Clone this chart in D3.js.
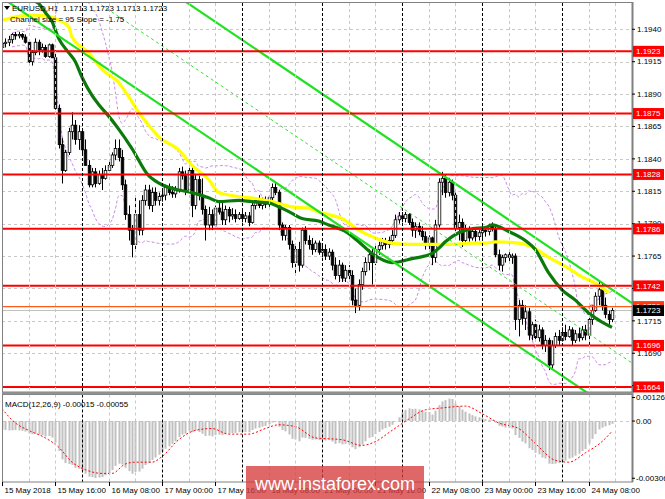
<!DOCTYPE html>
<html><head><meta charset="utf-8">
<script src="https://cdn.jsdelivr.net/npm/d3@7"></script>
<style>body{margin:0;background:#fff;}svg{display:block;}text{font-family:"Liberation Sans",Arial,sans-serif;}</style>
</head><body>
<svg id="c" width="665" height="499"></svg>
<script>
// ---------- DATA (EURUSD H1) ----------
const opens=[1.1926,1.1929,1.1930,1.1932,1.1936,1.1935,1.1936,1.1934,1.1930,1.1915,1.1922,1.1930,1.1924,1.1926,1.1919,1.1928,1.1918,1.1879,1.1851,1.1831,1.1845,1.1861,1.1866,1.1855,1.1861,1.1847,1.1835,1.1820,1.1830,1.1821,1.1828,1.1825,1.1831,1.1835,1.1843,1.1848,1.1841,1.1820,1.1797,1.1785,1.1774,1.1797,1.1785,1.1808,1.1816,1.1804,1.1814,1.1808,1.1811,1.1812,1.1818,1.1814,1.1813,1.1816,1.1830,1.1827,1.1816,1.1831,1.1804,1.1824,1.1812,1.1801,1.1789,1.1797,1.1789,1.1802,1.1799,1.1793,1.1801,1.1796,1.1797,1.1794,1.1797,1.1794,1.1796,1.1791,1.1804,1.1808,1.1804,1.1807,1.1805,1.1810,1.1818,1.1814,1.1789,1.1781,1.1787,1.1774,1.1760,1.1770,1.1758,1.1785,1.1777,1.1774,1.1770,1.1775,1.1768,1.1770,1.1765,1.1768,1.1758,1.1750,1.1758,1.1748,1.1754,1.1750,1.1731,1.1727,1.1743,1.1753,1.1760,1.1766,1.1760,1.1770,1.1773,1.1776,1.1774,1.1777,1.1781,1.1793,1.1796,1.1794,1.1797,1.1791,1.1785,1.1788,1.1784,1.1780,1.1773,1.1779,1.1764,1.1789,1.1822,1.1825,1.1814,1.1822,1.1812,1.1787,1.1791,1.1777,1.1785,1.1779,1.1784,1.1780,1.1783,1.1785,1.1784,1.1788,1.1786,1.1766,1.1758,1.1764,1.1766,1.1764,1.1765,1.1716,1.1727,1.1717,1.1722,1.1704,1.1712,1.1702,1.1708,1.1696,1.1700,1.1681,1.1696,1.1703,1.1700,1.1706,1.1703,1.1708,1.1700,1.1705,1.1702,1.1708,1.1704,1.1716,1.1723,1.1734,1.1739,1.1727,1.1720,1.1716];
const highs=[1.1932,1.1933,1.1935,1.1937,1.1938,1.1938,1.1937,1.1936,1.1932,1.1924,1.1933,1.1932,1.1929,1.1928,1.1929,1.1929,1.1924,1.1882,1.1856,1.1847,1.1864,1.1876,1.1870,1.1866,1.1862,1.1855,1.1839,1.1833,1.1833,1.1831,1.1833,1.1835,1.1839,1.1845,1.1855,1.1855,1.1847,1.1824,1.1804,1.1789,1.1812,1.1808,1.1812,1.1820,1.1820,1.1818,1.1818,1.1814,1.1816,1.1820,1.1821,1.1819,1.1819,1.1833,1.1834,1.1831,1.1835,1.1835,1.1828,1.1827,1.1825,1.1804,1.1803,1.1801,1.1804,1.1807,1.1808,1.1804,1.1803,1.1802,1.1801,1.1799,1.1801,1.1799,1.1799,1.1808,1.1810,1.1812,1.1810,1.1811,1.1812,1.1821,1.1822,1.1816,1.1791,1.1789,1.1789,1.1777,1.1774,1.1776,1.1787,1.1788,1.1781,1.1779,1.1777,1.1777,1.1774,1.1774,1.1771,1.1770,1.1764,1.1762,1.1760,1.1758,1.1758,1.1754,1.1740,1.1747,1.1756,1.1764,1.1770,1.1771,1.1774,1.1776,1.1779,1.1779,1.1780,1.1785,1.1797,1.1799,1.1799,1.1799,1.1798,1.1794,1.1791,1.1791,1.1788,1.1784,1.1781,1.1780,1.1793,1.1825,1.1830,1.1828,1.1825,1.1824,1.1814,1.1797,1.1794,1.1789,1.1788,1.1787,1.1787,1.1785,1.1789,1.1788,1.1790,1.1791,1.1788,1.1770,1.1766,1.1767,1.1768,1.1767,1.1767,1.1731,1.1731,1.1727,1.1725,1.1714,1.1716,1.1712,1.1710,1.1704,1.1702,1.1700,1.1706,1.1708,1.1710,1.1712,1.1711,1.1710,1.1708,1.1710,1.1711,1.1712,1.1720,1.1727,1.1737,1.1745,1.1745,1.1733,1.1723,1.1725];
const lows=[1.1924,1.1926,1.1927,1.1929,1.1932,1.1933,1.1932,1.1929,1.1914,1.1912,1.1920,1.1920,1.1922,1.1918,1.1918,1.1918,1.1878,1.1848,1.1821,1.1830,1.1843,1.1855,1.1851,1.1847,1.1843,1.1835,1.1818,1.1818,1.1818,1.1820,1.1816,1.1824,1.1828,1.1833,1.1839,1.1838,1.1816,1.1793,1.1777,1.1764,1.1770,1.1781,1.1781,1.1804,1.1801,1.1799,1.1804,1.1804,1.1807,1.1808,1.1812,1.1810,1.1810,1.1814,1.1824,1.1812,1.1814,1.1795,1.1801,1.1808,1.1797,1.1777,1.1785,1.1785,1.1787,1.1797,1.1789,1.1789,1.1791,1.1793,1.1791,1.1793,1.1791,1.1791,1.1788,1.1790,1.1801,1.1802,1.1801,1.1802,1.1803,1.1808,1.1812,1.1785,1.1777,1.1777,1.1770,1.1756,1.1750,1.1753,1.1756,1.1774,1.1770,1.1766,1.1768,1.1766,1.1764,1.1762,1.1762,1.1754,1.1747,1.1745,1.1745,1.1745,1.1747,1.1727,1.1721,1.1723,1.1739,1.1750,1.1754,1.1743,1.1758,1.1766,1.1770,1.1770,1.1771,1.1774,1.1779,1.1790,1.1791,1.1791,1.1789,1.1780,1.1779,1.1781,1.1777,1.1770,1.1770,1.1758,1.1760,1.1787,1.1812,1.1810,1.1811,1.1808,1.1781,1.1777,1.1772,1.1774,1.1776,1.1777,1.1776,1.1777,1.1779,1.1780,1.1781,1.1784,1.1764,1.1754,1.1753,1.1760,1.1760,1.1759,1.1708,1.1703,1.1712,1.1708,1.1700,1.1700,1.1699,1.1699,1.1693,1.1691,1.1677,1.1677,1.1694,1.1696,1.1699,1.1700,1.1702,1.1696,1.1698,1.1699,1.1700,1.1700,1.1694,1.1712,1.1722,1.1727,1.1723,1.1717,1.1712,1.1714];
const closes=[1.1929,1.1930,1.1932,1.1936,1.1935,1.1936,1.1934,1.1930,1.1915,1.1922,1.1930,1.1924,1.1926,1.1919,1.1928,1.1918,1.1879,1.1851,1.1831,1.1845,1.1861,1.1866,1.1855,1.1861,1.1847,1.1835,1.1820,1.1830,1.1821,1.1828,1.1825,1.1831,1.1835,1.1843,1.1848,1.1841,1.1820,1.1797,1.1785,1.1774,1.1797,1.1785,1.1808,1.1816,1.1804,1.1814,1.1808,1.1811,1.1812,1.1818,1.1814,1.1813,1.1816,1.1830,1.1827,1.1816,1.1831,1.1804,1.1824,1.1812,1.1801,1.1789,1.1797,1.1789,1.1802,1.1799,1.1793,1.1801,1.1796,1.1797,1.1794,1.1797,1.1794,1.1796,1.1791,1.1804,1.1808,1.1804,1.1807,1.1805,1.1810,1.1818,1.1814,1.1789,1.1781,1.1787,1.1774,1.1760,1.1770,1.1758,1.1785,1.1777,1.1774,1.1770,1.1775,1.1768,1.1770,1.1765,1.1768,1.1758,1.1750,1.1758,1.1748,1.1754,1.1750,1.1731,1.1727,1.1743,1.1753,1.1760,1.1766,1.1760,1.1770,1.1773,1.1776,1.1774,1.1777,1.1781,1.1793,1.1796,1.1794,1.1797,1.1791,1.1785,1.1788,1.1784,1.1780,1.1773,1.1779,1.1764,1.1789,1.1822,1.1825,1.1814,1.1822,1.1812,1.1787,1.1791,1.1777,1.1785,1.1779,1.1784,1.1780,1.1783,1.1785,1.1784,1.1788,1.1786,1.1766,1.1758,1.1764,1.1766,1.1764,1.1765,1.1716,1.1727,1.1717,1.1722,1.1704,1.1712,1.1702,1.1708,1.1696,1.1700,1.1681,1.1696,1.1703,1.1700,1.1706,1.1703,1.1708,1.1700,1.1705,1.1702,1.1708,1.1704,1.1716,1.1723,1.1734,1.1739,1.1727,1.1720,1.1716,1.1723];

// moving averages: [bar index, price]
const maGreen=[[6,1.1975],[9,1.1963],[11,1.1960],[13,1.1953],[15,1.1946],[17,1.1933],[20,1.1922],[22,1.1915],[24,1.1903],[27,1.1889],[29,1.1882],[32,1.1873],[35,1.1863],[39,1.1848],[44,1.1827],[46,1.1823],[48,1.1820],[53,1.1816],[57,1.1814],[62,1.1810],[65,1.1807],[71,1.1808],[75,1.1807],[80,1.1806],[83,1.1803],[87,1.1798],[90,1.1794],[95,1.1792],[98,1.1789],[103,1.1784],[107,1.1776],[111,1.1767],[117,1.1760],[123,1.1763],[129,1.1767],[131,1.1771],[133,1.1776],[137,1.1783],[141,1.1786],[145,1.1787],[147,1.1789],[152,1.1784],[157,1.1777],[160,1.1770],[164,1.1752],[168,1.1739],[172,1.1731],[176,1.1721],[180,1.1714],[183,1.1710]];
const maYellow=[[0,1.1947],[5,1.1950],[9,1.1951],[14,1.1950],[17,1.1947],[20,1.1942],[21,1.1934],[26,1.1922],[30,1.1909],[35,1.1899],[38,1.1888],[41,1.1876],[44,1.1866],[47,1.1857],[53,1.1847],[57,1.1835],[62,1.1824],[65,1.1814],[71,1.1811],[77,1.1809],[81,1.1807],[87,1.1803],[92,1.1802],[95,1.1799],[98,1.1797],[102,1.1794],[107,1.1785],[112,1.1779],[117,1.1775],[123,1.1774],[130,1.1774],[135,1.1774],[140,1.1775],[145,1.1775],[148,1.1776],[155,1.1775],[159,1.1772],[164,1.1764],[169,1.1757],[174,1.1749],[178,1.1744],[182,1.1737]];

// regression channel (Channel size = 95, Slope = -1.75)
const channelUpper=[[0,1.20569],[189,1.17288]];
const channelMiddle=[[0,1.20106],[189,1.16825]];
const channelLower=[[0,1.19643],[189,1.16362]];

const levels=[1.1923,1.1875,1.1828,1.1786,1.1742,1.1696,1.1664];
const orangeLevel=1.1726;
const lastPrice=1.1723;
const alertMark=[177,1.1725];
const priceTicks=[1.1940,1.1915,1.1890,1.1865,1.1840,1.1815,1.1790,1.1765,1.1740,1.1715,1.1690,1.1665];
const timeLabels=["15 May 2018","15 May 16:00","16 May 08:00","17 May 00:00","17 May 16:00","18 May 08:00","21 May 00:00","21 May 16:00","22 May 08:00","23 May 00:00","23 May 16:00","24 May 08:00"];
const timeLabelBars=[0,16,32,48,64,80,96,112,128,144,160,176];
const daySeparatorBars=[24,48,72,96,120,144,168];

const macdHist=[-0.00045,-0.00048,-0.00050,-0.00050,-0.00048,-0.00050,-0.00052,-0.00056,-0.00066,-0.00070,-0.00068,-0.00072,-0.00075,-0.00082,-0.00080,-0.00088,-0.00115,-0.00160,-0.00205,-0.00225,-0.00230,-0.00235,-0.00250,-0.00255,-0.00268,-0.00282,-0.00298,-0.00300,-0.00305,-0.00302,-0.00300,-0.00290,-0.00280,-0.00262,-0.00240,-0.00228,-0.00232,-0.00250,-0.00268,-0.00282,-0.00272,-0.00270,-0.00255,-0.00235,-0.00225,-0.00208,-0.00195,-0.00180,-0.00165,-0.00148,-0.00135,-0.00122,-0.00108,-0.00085,-0.00072,-0.00068,-0.00052,-0.00060,-0.00052,-0.00058,-0.00068,-0.00080,-0.00078,-0.00082,-0.00075,-0.00072,-0.00075,-0.00068,-0.00066,-0.00064,-0.00063,-0.00060,-0.00060,-0.00058,-0.00060,-0.00048,-0.00040,-0.00036,-0.00030,-0.00026,-0.00018,-0.00008,-0.00006,-0.00030,-0.00048,-0.00055,-0.00072,-0.00095,-0.00098,-0.00108,-0.00088,-0.00090,-0.00095,-0.00100,-0.00098,-0.00102,-0.00100,-0.00104,-0.00102,-0.00110,-0.00122,-0.00118,-0.00125,-0.00122,-0.00125,-0.00140,-0.00150,-0.00140,-0.00125,-0.00108,-0.00090,-0.00085,-0.00070,-0.00058,-0.00045,-0.00038,-0.00030,-0.00020,-0.00002,0.00020,0.00045,0.00060,0.00068,0.00065,0.00066,0.00062,0.00055,0.00050,0.00048,0.00035,0.00055,0.00085,0.00105,0.00112,0.00120,0.00118,0.00095,0.00080,0.00062,0.00050,0.00040,0.00032,0.00025,0.00020,0.00015,0.00010,0.00008,0.00005,-0.00008,-0.00025,-0.00030,-0.00035,-0.00038,-0.00040,-0.00075,-0.00090,-0.00110,-0.00120,-0.00145,-0.00155,-0.00170,-0.00178,-0.00195,-0.00200,-0.00228,-0.00230,-0.00228,-0.00225,-0.00218,-0.00212,-0.00200,-0.00195,-0.00185,-0.00175,-0.00160,-0.00150,-0.00120,-0.00095,-0.00070,-0.00045,-0.00035,-0.00028,-0.00022,-0.00015];
const macdSignal=[[0,0.00066],[4,-0.0001],[8,-0.0005],[13,-0.0009],[17,-0.0014],[21,-0.0022],[25,-0.0026],[30,-0.0028],[33,-0.0028],[37,-0.0023],[40,-0.0022],[45,-0.0022],[48,-0.0019],[53,-0.0010],[58,-0.0005],[63,-0.0004],[68,-0.0007],[74,-0.0007],[79,-0.0004],[83,-0.0002],[88,-0.0003],[94,-0.0009],[102,-0.0010],[108,-0.0013],[112,-0.0011],[117,-0.0005],[122,0.0001],[127,0.0006],[132,0.0007],[139,0.0008],[144,0.0004],[149,-0.0001],[155,-0.0004],[160,-0.0012],[166,-0.0021],[170,-0.0022],[175,-0.0017],[180,-0.0011],[183,-0.00055]];
const macdTicks=[0.00126,0.00,-0.00306];
const macdTickLabels=["0.00126","0.00","-0.00306"];

// ---------- LAYOUT ----------
const X0=2,X1=632,MT=3,MB=392,ST=394.5,SB=482;
const svg=d3.select('#c');
const x=d3.scaleLinear().domain([0,189]).range([X0,X1]);
const y=d3.scaleLinear().domain([1.16601,1.19603]).range([MB,MT]);
const ym=d3.scaleLinear().domain([-0.00326,0.00142]).range([SB,ST]);
const n=Math.min(opens.length,highs.length,lows.length,closes.length);

svg.append('rect').attr('width',665).attr('height',499).attr('fill','#fff');
const defs=svg.append('defs');
defs.append('clipPath').attr('id','cm').append('rect').attr('x',X0).attr('y',MT-1).attr('width',X1-X0).attr('height',MB-MT+1);
defs.append('clipPath').attr('id','cs').append('rect').attr('x',X0).attr('y',ST).attr('width',X1-X0).attr('height',SB-ST);

const main=svg.append('g').attr('clip-path','url(#cm)');
const sub=svg.append('g').attr('clip-path','url(#cs)');

// grids
priceTicks.forEach(p=>{
  main.append('line').attr('x1',X0).attr('x2',X1).attr('y1',Math.round(y(p))+0.5).attr('y2',Math.round(y(p))+0.5)
    .attr('stroke','#c8c8c8').attr('stroke-dasharray','3,3');
});
sub.append('line').attr('x1',X0).attr('x2',X1).attr('y1',Math.round(ym(0))+0.5).attr('y2',Math.round(ym(0))+0.5)
  .attr('stroke','#c8c8c8').attr('stroke-dasharray','3,3');
for(let b=8;b<190;b+=8){
  if(b%24===0) continue;
  const xx=Math.round(x(b))+0.5;
  [[MT,MB],[ST,SB]].forEach(([a,c])=>svg.append('line').attr('x1',xx).attr('x2',xx).attr('y1',a).attr('y2',c)
    .attr('stroke','#c8c8c8').attr('stroke-dasharray','3,3'));
}
daySeparatorBars.forEach(b=>{
  const xx=Math.round(x(b))+0.5;
  [[MT,MB],[ST,SB]].forEach(([a,c])=>svg.append('line').attr('x1',xx).attr('x2',xx).attr('y1',a).attr('y2',c)
    .attr('stroke','#000').attr('stroke-dasharray','3,2'));
});

// Bollinger bands (20,2) from closes
const bbU=[],bbL=[];
for(let i=3;i<n;i++){
  const w=closes.slice(Math.max(0,i-19),i+1);
  const m=d3.mean(w), sd=Math.sqrt(d3.mean(w.map(v=>(v-m)*(v-m))));
  bbU.push([i,m+2*sd]); bbL.push([i,m-2*sd]);
}
const lineP=d3.line().x(d=>x(d[0])).y(d=>y(d[1])).curve(d3.curveMonotoneX);
[bbU,bbL].forEach(s=>main.append('path').attr('d',lineP(s)).attr('fill','none')
  .attr('stroke','#c98be6').attr('stroke-width',1).attr('stroke-dasharray','3,2'));

// current price gray line
main.append('line').attr('x1',X0).attr('x2',X1).attr('y1',y(lastPrice)).attr('y2',y(lastPrice)).attr('stroke','#c0c0c0');

// candles
const cg=main.append('g');
for(let i=0;i<n;i++){
  const cx=Math.round(x(i))+0.5;
  cg.append('line').attr('x1',cx).attr('x2',cx).attr('y1',y(highs[i])).attr('y2',y(lows[i])).attr('stroke','#000').attr('stroke-width',1);
  const top=y(Math.max(opens[i],closes[i])), bot=y(Math.min(opens[i],closes[i]));
  const bull=closes[i]>=opens[i];
  cg.append('rect').attr('x',cx-1.3).attr('width',2.6).attr('y',top).attr('height',Math.max(1,bot-top))
    .attr('fill',bull?'#fff':'#000').attr('stroke','#000').attr('stroke-width',0.8);
}

// moving averages
main.append('path').attr('d',lineP(maYellow)).attr('fill','none').attr('stroke','#ffff00').attr('stroke-width',3.2);
main.append('path').attr('d',lineP(maGreen)).attr('fill','none').attr('stroke','#0b7a0b').attr('stroke-width',3.2);

// channel
const lineS=d3.line().x(d=>x(d[0])).y(d=>y(d[1]));
main.append('path').attr('d',lineS(channelUpper)).attr('stroke','#22e022').attr('stroke-width',2.2).attr('fill','none');
main.append('path').attr('d',lineS(channelLower)).attr('stroke','#22e022').attr('stroke-width',2.2).attr('fill','none');
main.append('path').attr('d',lineS(channelMiddle)).attr('stroke','#33e033').attr('stroke-width',1).attr('stroke-dasharray','3,3').attr('fill','none');

// horizontal levels
levels.forEach(p=>main.append('line').attr('x1',X0).attr('x2',X1).attr('y1',y(p)).attr('y2',y(p)).attr('stroke','#ff0000').attr('stroke-width',2));
main.append('line').attr('x1',X0).attr('x2',X1).attr('y1',y(orangeLevel)).attr('y2',y(orangeLevel)).attr('stroke','#ff5a1e').attr('stroke-width',1.3);
main.append('circle').attr('cx',x(alertMark[0])).attr('cy',y(alertMark[1])).attr('r',3).attr('fill','none').attr('stroke','#ff3030').attr('stroke-width',1);

// MACD
for(let i=0;i<macdHist.length;i++){
  const cx=Math.round(x(i));
  const a=ym(0), b=ym(macdHist[i]);
  sub.append('rect').attr('x',cx-0.5).attr('width',2).attr('y',Math.min(a,b)).attr('height',Math.max(0.5,Math.abs(b-a))).attr('fill','#c0c0c0');
}
sub.append('path').attr('d',d3.line().x(d=>x(d[0])).y(d=>ym(d[1])).curve(d3.curveMonotoneX)(macdSignal))
  .attr('fill','none').attr('stroke','#ff0000').attr('stroke-width',1).attr('stroke-dasharray','2,2');

// frames
svg.append('rect').attr('x',X0+0.5).attr('y',MT-0.5).attr('width',X1-X0).attr('height',MB-MT+0.5).attr('fill','none').attr('stroke','#808080');
svg.append('rect').attr('x',X0+0.5).attr('y',ST).attr('width',X1-X0).attr('height',SB-ST).attr('fill','none').attr('stroke','#808080');
svg.append('line').attr('x1',X1+0.5).attr('x2',X1+0.5).attr('y1',MT-1).attr('y2',SB).attr('stroke','#808080').attr('stroke-width',2);
svg.append('rect').attr('x',X0).attr('y',MB).attr('width',X1-X0+1).attr('height',ST-MB).attr('fill','#909090');

// price axis
const ax=svg.append('g').attr('font-size','8px');
priceTicks.forEach(p=>{
  ax.append('line').attr('x1',X1).attr('x2',X1+3).attr('y1',y(p)).attr('y2',y(p)).attr('stroke','#000');
  ax.append('text').attr('x',637).attr('y',y(p)).attr('dy','0.35em').text(d3.format('.4f')(p));
});
function tag(p,bg,fg,txt){
  const yy=y(p);
  ax.append('rect').attr('x',X1+1).attr('y',yy-5.5).attr('width',31).attr('height',11).attr('fill',bg);
  ax.append('text').attr('x',636).attr('y',yy).attr('dy','0.35em').attr('fill',fg).text(txt);
}
levels.forEach(p=>tag(p,'#ff0000','#fff',d3.format('.4f')(p)));
tag(orangeLevel,'#ff3a10','#fff',d3.format('.4f')(orangeLevel));
tag(lastPrice,'#000','#fff',d3.format('.4f')(lastPrice));

// macd axis
macdTicks.forEach((v,k)=>{
  ax.append('line').attr('x1',X1).attr('x2',X1+3).attr('y1',ym(v)).attr('y2',ym(v)).attr('stroke','#000');
  ax.append('text').attr('x',636).attr('y',Math.min(ym(v),478)).attr('dy','0.35em').text(macdTickLabels[k]);
});

// time axis
timeLabels.forEach((t,k)=>{
  const xx=Math.round(x(timeLabelBars[k]))+0.5;
  ax.append('line').attr('x1',xx).attr('x2',xx).attr('y1',SB).attr('y2',SB+4).attr('stroke','#000');
  ax.append('text').attr('x',xx+2).attr('y',493).text(t);
});

// titles
const tt=svg.append('g').attr('font-size','8px').attr('fill','#000');
tt.append('path').attr('d','M4,6 L10,6 L7,10 Z').attr('fill','#000');
tt.append('text').attr('x',12).attr('y',11).style('white-space','pre').text('EURUSD,H1  1.1713 1.1723 1.1713 1.1723');
tt.append('text').attr('x',10).attr('y',22).style('white-space','pre').text('Channel size = 95 Slope = -1.75');
tt.append('text').attr('x',5).attr('y',407).style('white-space','pre').text('MACD(12,26,9) -0.00015 -0.00055');

// watermark
svg.append('rect').attr('x',246).attr('y',466).attr('width',178).attr('height',33).attr('fill','rgba(214,60,60,0.78)');
svg.append('text').attr('x',335).attr('y',490).attr('text-anchor','middle').attr('font-size','18px').attr('fill','#fff').text('www.instaforex.com');
</script>
</body></html>
